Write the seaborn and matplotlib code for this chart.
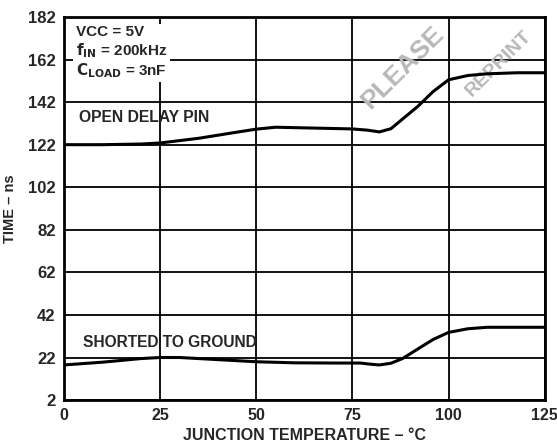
import matplotlib
matplotlib.use("Agg")
import matplotlib.pyplot as plt
import seaborn as sns
import pandas as pd

# junction temperature (degC) and delay time (ns)
temp_open = [0, 10, 20, 25, 35, 45, 50, 55, 60, 70, 75, 79, 82, 85, 88, 92, 96, 100, 105, 110, 118, 125]
time_open = [122, 122, 122.3, 122.8, 125, 127.9, 129.3, 130.2, 130, 129.6, 129.4, 128.8, 128, 129.5, 134, 140, 147, 152.5, 154.5, 155.3, 155.8, 155.8]

temp_short = [0, 10, 20, 25, 30, 40, 50, 60, 70, 77, 80, 82, 85, 88, 92, 96, 100, 105, 110, 118, 125]
time_short = [18.5, 19.8, 21.5, 22, 22, 21, 20, 19.5, 19.4, 19.4, 18.8, 18.5, 19.3, 21.5, 26, 30.5, 33.8, 35.5, 36.2, 36.2, 36.2]

x_ticks = [0, 25, 50, 75, 100, 125]
y_ticks = [2, 22, 42, 62, 82, 102, 122, 142, 162, 182]

sns.set_style("white")
plt.rcParams['font.family'] = ['Liberation Sans', 'DejaVu Sans']
plt.rcParams['font.weight'] = 'bold'

df = pd.concat([
    pd.DataFrame({'temp': temp_open, 'time': time_open, 'series': 'open'}),
    pd.DataFrame({'temp': temp_short, 'time': time_short, 'series': 'short'}),
])

fig = plt.figure(figsize=(5.57, 4.47), dpi=100)
ax = fig.add_axes([0.115, 0.105, 0.863, 0.857])

sns.lineplot(data=df, x='temp', y='time', units='series', estimator=None,
             color='black', linewidth=2.2, ax=ax, zorder=3)

ax.set_xlim(0, 125)
ax.set_ylim(2, 182)
ax.set_xticks(x_ticks)
ax.set_yticks(y_ticks)
ax.grid(True, color='black', linewidth=1.3)
for s in ax.spines.values():
    s.set_visible(True)
    s.set_color('black')
    s.set_linewidth(2)
ax.tick_params(axis='x', labelsize=11.5, length=0, pad=6)
ax.tick_params(axis='y', labelsize=12, length=0, pad=6)
for lbl in ax.get_xticklabels() + ax.get_yticklabels():
    lbl.set_fontweight('bold')

ax.set_xlabel("JUNCTION TEMPERATURE \u2013 \u00b0C", fontsize=11.5, fontweight='bold', labelpad=3)
ax.set_ylabel("TIME \u2013 ns", fontsize=10.5, fontweight='bold', labelpad=8)

ax.text(3, 178, "VCC = 5V\n$\\mathbf{f_{IN}}$ = 200kHz\n$\\mathbf{C_{LOAD}}$ = 3nF",
        fontsize=11, fontweight='bold', va='top', ha='left', linespacing=1.1,
        bbox=dict(facecolor='white', edgecolor='none', pad=2), zorder=4)
ax.text(4, 135, "OPEN DELAY PIN", fontsize=11.3, fontweight='bold', va='center', zorder=4)
ax.text(5, 29, "SHORTED TO GROUND", fontsize=11.2, fontweight='bold', va='center', zorder=4)

# faint watermark
ax.text(88, 158, "PLEASE", fontsize=19, fontweight='bold', color='#b8b8b8',
        rotation=45, ha='center', va='center', zorder=1)
ax.text(113, 160, "REPRINT", fontsize=14, fontweight='bold', color='#b8b8b8',
        rotation=45, ha='center', va='center', zorder=1)

fig.savefig("out.png", dpi=100)
